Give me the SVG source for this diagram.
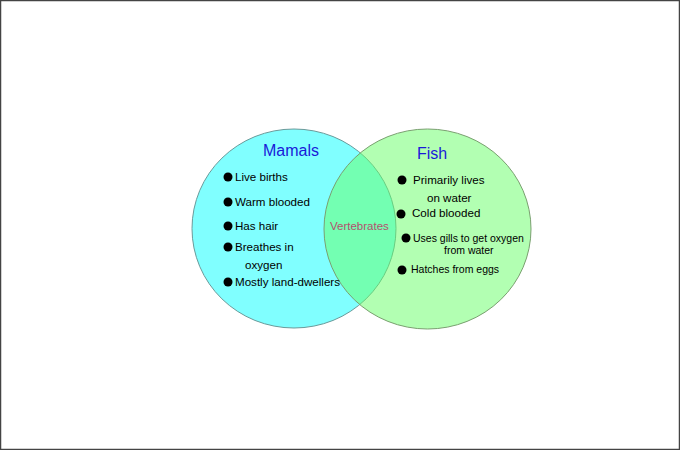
<svg xmlns="http://www.w3.org/2000/svg" width="680" height="450" viewBox="0 0 680 450">
<style>
.t{font-family:"Liberation Sans",Arial,sans-serif;fill:#000;font-size:11.6px}
.s{font-size:10.5px}
.h{font-family:"Liberation Sans",Arial,sans-serif;fill:#1a1ad8;font-size:16px}
.v{font-family:"Liberation Sans",Arial,sans-serif;fill:#b4506e;font-size:11.5px}
.b{fill:#000}
</style>
<rect x="0.5" y="0.5" width="679" height="449" fill="#fff" stroke="#444" stroke-width="1.5"/>
<g id="mamals">
<ellipse cx="294" cy="228.5" rx="102" ry="99.5" fill="#80ffff" stroke="#6a9a9a" stroke-width="1"/>
</g>
<g id="fish">
<ellipse cx="427.5" cy="229" rx="103.5" ry="100" fill="#66ff66" fill-opacity="0.5" stroke="#7aa070" stroke-width="1"/>
</g>
<g id="mamals-text">
<text class="h" x="263" y="156">Mamals</text>
<circle class="b" cx="228" cy="177" r="4.5"/>
<text class="t" x="235" y="181">Live births</text>
<circle class="b" cx="228" cy="202" r="4.5"/>
<text class="t" x="235" y="206">Warm blooded</text>
<circle class="b" cx="228" cy="226" r="4.5"/>
<text class="t" x="235" y="230">Has hair</text>
<circle class="b" cx="228" cy="247" r="4.5"/>
<text class="t" x="235" y="251">Breathes in</text>
<text class="t" x="245" y="269">oxygen</text>
<circle class="b" cx="228" cy="282" r="4.5"/>
<text class="t" x="235" y="286">Mostly land-dwellers</text>
</g>
<g id="fish-text">
<text class="h" x="417" y="159">Fish</text>
<circle class="b" cx="402" cy="180" r="4.5"/>
<text class="t" x="413" y="184">Primarily lives</text>
<text class="t" x="427" y="202">on water</text>
<circle class="b" cx="401" cy="214" r="4.5"/>
<text class="t" x="412" y="217">Cold blooded</text>
<circle class="b" cx="406" cy="238" r="4.5"/>
<text class="t s" x="413" y="242">Uses gills to get oxygen</text>
<text class="t s" x="444" y="254">from water</text>
<circle class="b" cx="402" cy="270" r="4.5"/>
<text class="t s" x="411" y="273">Hatches from eggs</text>
</g>
<g id="vertebrates">
<text class="v" x="330" y="230">Vertebrates</text>
</g>
<g id="connectors"/>
</svg>
